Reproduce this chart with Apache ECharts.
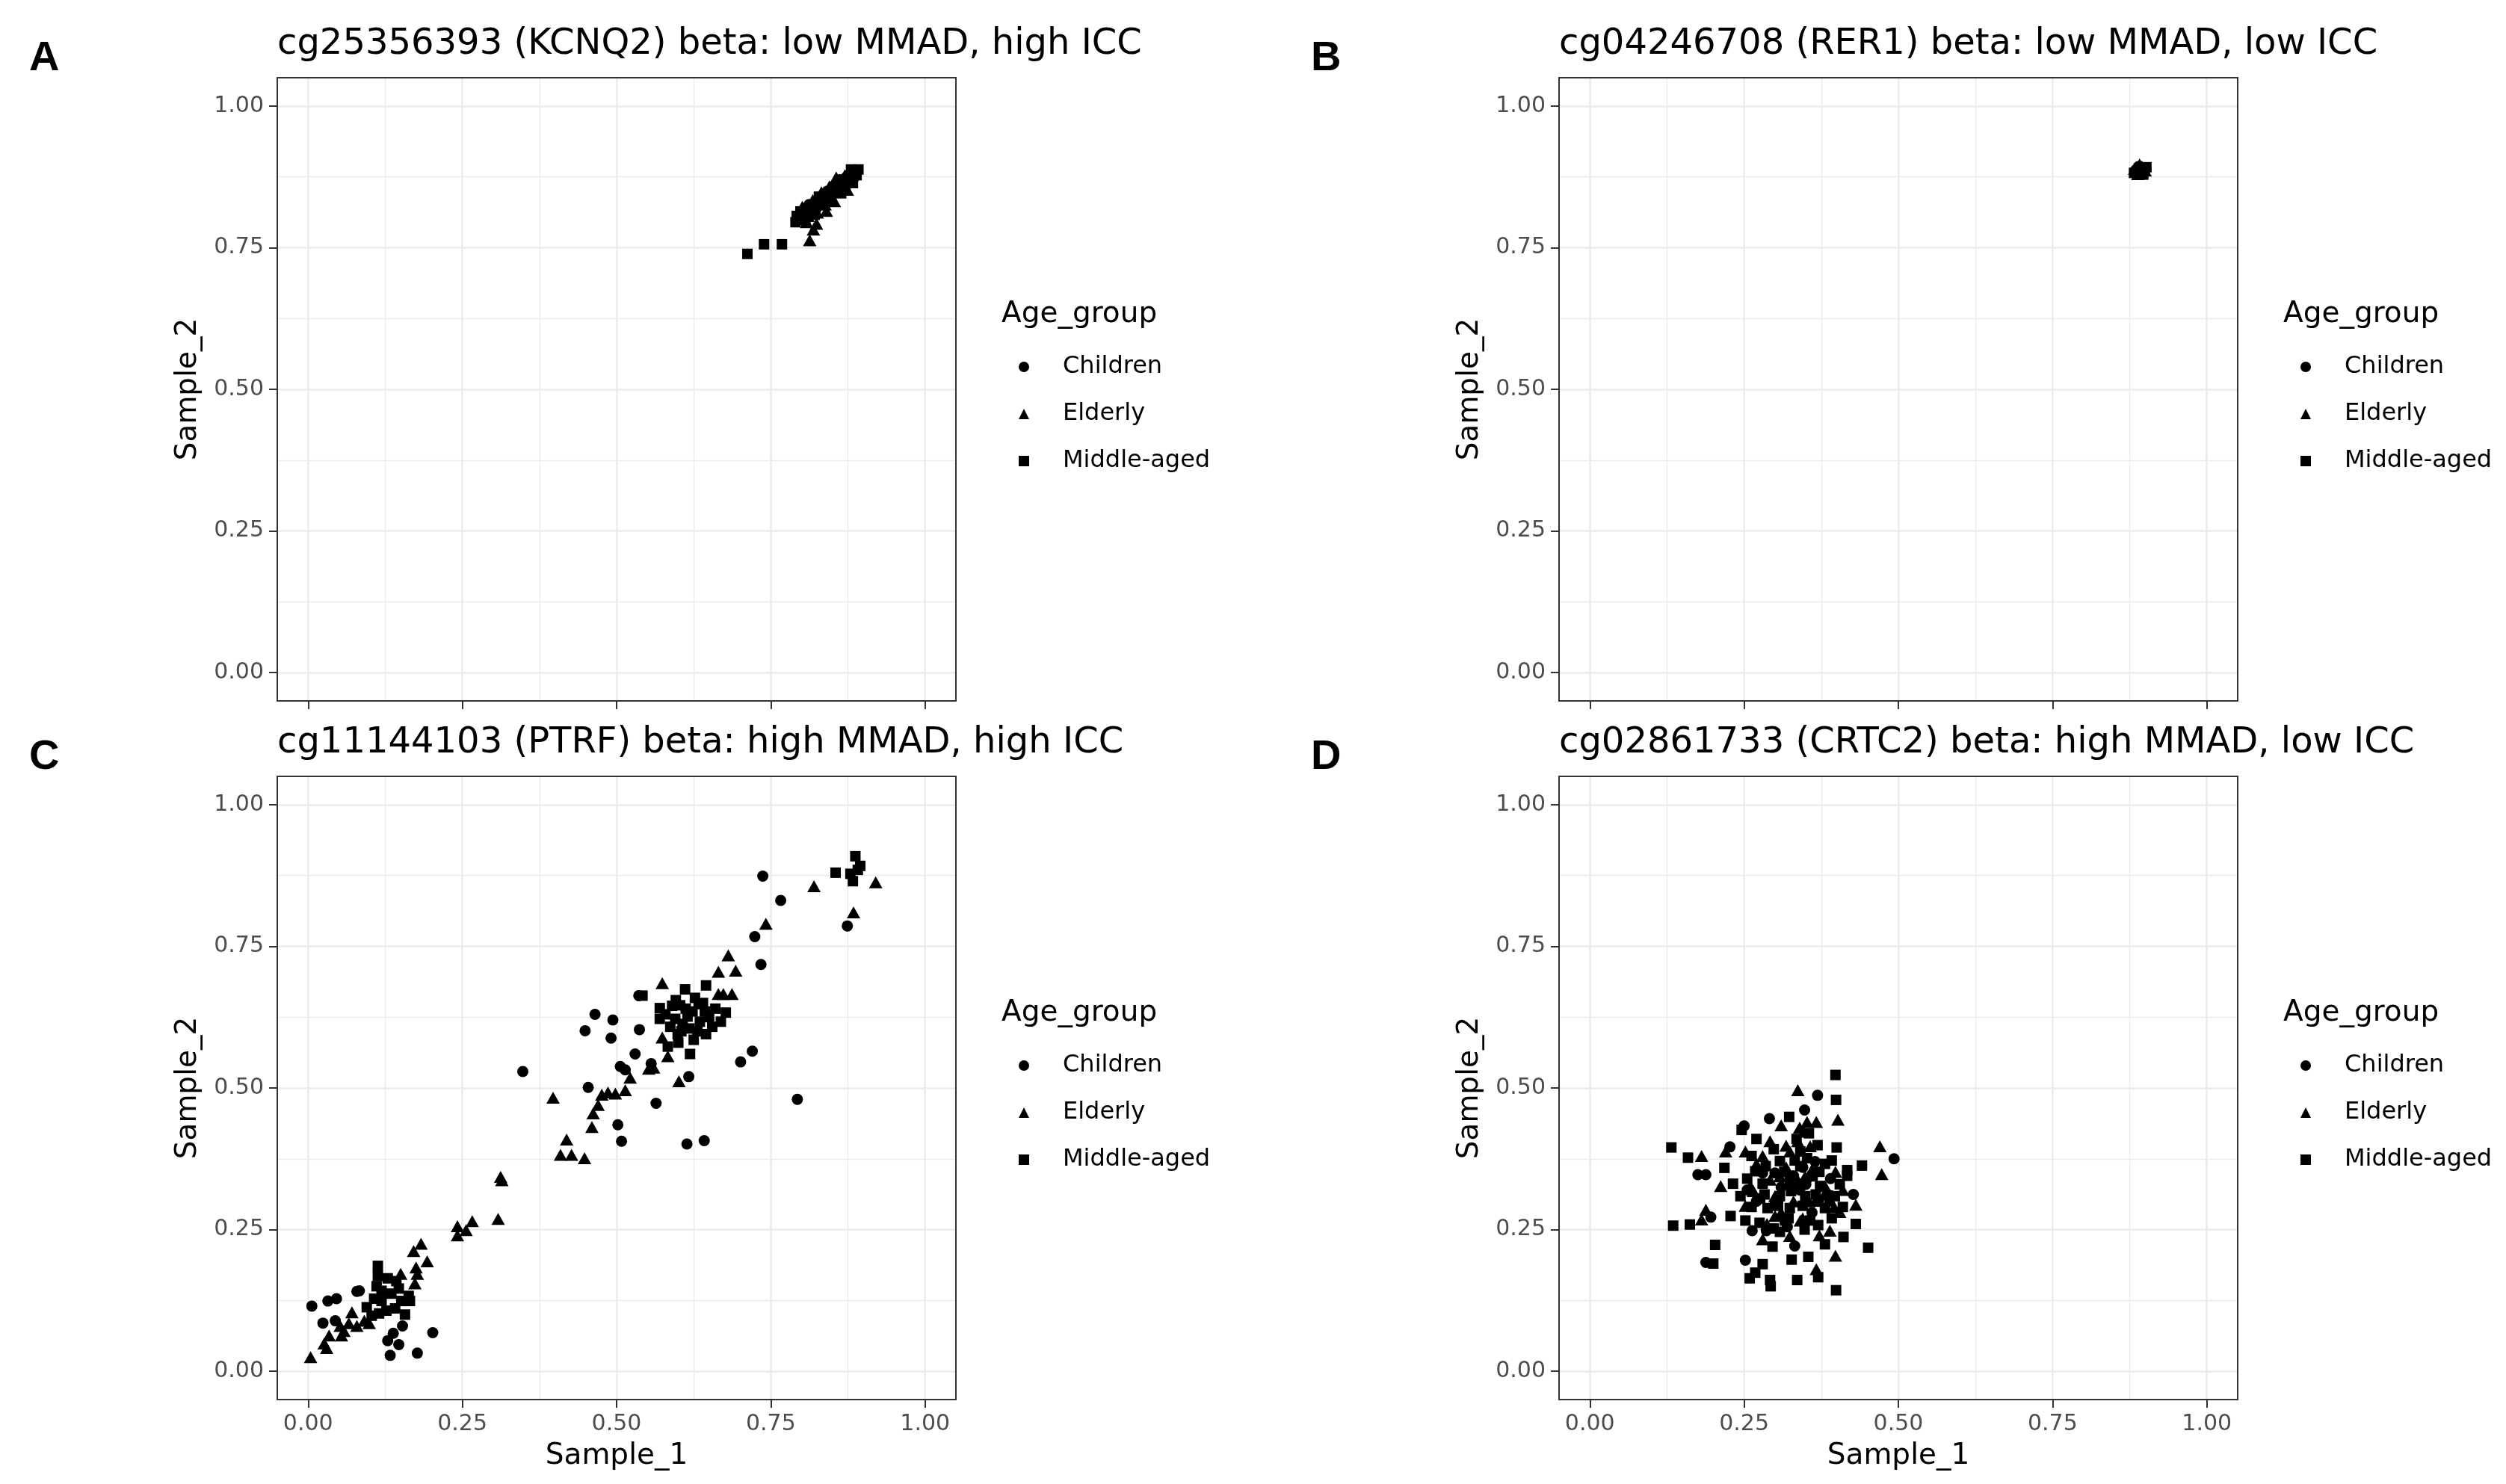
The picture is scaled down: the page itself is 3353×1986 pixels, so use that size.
<!DOCTYPE html>
<html>
<head>
<meta charset="utf-8">
<script src="https://cdn.jsdelivr.net/npm/echarts@6/dist/echarts.min.js"></script>
<style>
  html, body { margin: 0; padding: 0; background: #fff; }
  #chart { width: 3353px; height: 1986px; }
</style>
</head>
<body>
<div id="chart"></div>
<script>
// tick labels shared by every panel
const majorTicks = [0, 0.25, 0.5, 0.75, 1];
const minorTicks = [0.125, 0.375, 0.625, 0.875];
const groups = ['Children', 'Elderly', 'Middle-aged'];

const panelTitles = [
  'cg25356393 (KCNQ2) beta: low MMAD, high ICC',
  'cg04246708 (RER1) beta: low MMAD, low ICC',
  'cg11144103 (PTRF) beta: high MMAD, high ICC',
  'cg02861733 (CRTC2) beta: high MMAD, low ICC'
];
const panelLetters = ['A', 'B', 'C', 'D'];

// panel A : KCNQ2
const aChildren = [[0.805,0.812],[0.812,0.826],[0.823,0.818],[0.834,0.838],[0.842,0.850],[0.851,0.846],[0.858,0.862],[0.866,0.858],[0.872,0.874],[0.879,0.881],[0.884,0.872],[0.888,0.886],[0.829,0.829],[0.846,0.836],[0.862,0.870],[0.876,0.864]];
const aElderly = [[0.795,0.800],[0.801,0.822],[0.810,0.806],[0.818,0.834],[0.825,0.812],[0.832,0.848],[0.838,0.826],[0.845,0.858],[0.853,0.832],[0.860,0.850],[0.868,0.866],[0.874,0.852],[0.881,0.868],[0.886,0.882],[0.824,0.792],[0.819,0.782],[0.813,0.763],[0.840,0.815],[0.808,0.795],[0.856,0.874],[0.870,0.878]];
const aMiddle = [[0.712,0.739],[0.739,0.756],[0.768,0.756],[0.790,0.795],[0.792,0.806],[0.798,0.814],[0.806,0.802],[0.815,0.820],[0.821,0.808],[0.828,0.840],[0.836,0.832],[0.848,0.842],[0.855,0.855],[0.864,0.846],[0.871,0.860],[0.878,0.876],[0.883,0.864],[0.889,0.878],[0.892,0.888],[0.880,0.888]];

// panel B : RER1
const bChildren = [[0.884,0.886],[0.892,0.890],[0.898,0.882],[0.889,0.893],[0.901,0.889]];
const bElderly = [[0.891,0.897],[0.883,0.889],[0.895,0.893],[0.900,0.886],[0.888,0.880],[0.886,0.892]];
const bMiddle = [[0.882,0.882],[0.890,0.879],[0.897,0.879],[0.902,0.892],[0.887,0.886],[0.894,0.885]];

// panel C : PTRF
const cChildren = [[0.006,0.115],[0.032,0.124],[0.046,0.128],[0.079,0.141],[0.083,0.142],[0.024,0.085],[0.044,0.089],[0.153,0.080],[0.138,0.067],[0.129,0.054],[0.147,0.047],[0.133,0.028],[0.177,0.032],[0.202,0.068],
  [0.737,0.874],[0.766,0.831],[0.874,0.786],[0.724,0.767],[0.734,0.718],[0.348,0.529],[0.465,0.630],[0.494,0.620],[0.449,0.601],[0.491,0.588],[0.537,0.603],[0.530,0.560],[0.536,0.663],[0.506,0.538],[0.514,0.532],[0.556,0.543],[0.617,0.520],[0.701,0.546],[0.720,0.565],[0.793,0.480],[0.564,0.473],[0.454,0.501],[0.502,0.435],[0.508,0.406],[0.614,0.401],[0.642,0.407]];
const cElderly = [[0.314,0.337],[0.312,0.343],[0.308,0.269],[0.266,0.265],[0.242,0.256],[0.256,0.249],[0.242,0.240],[0.183,0.225],[0.171,0.212],[0.193,0.194],[0.175,0.183],[0.177,0.172],[0.173,0.155],[0.150,0.172],[0.071,0.104],[0.091,0.089],[0.004,0.025],[0.026,0.049],[0.030,0.041],[0.034,0.063],[0.058,0.071],[0.054,0.063],[0.079,0.080],[0.099,0.085],[0.066,0.085],[0.052,0.080],
  [0.574,0.685],[0.574,0.589],[0.583,0.556],[0.665,0.705],[0.681,0.734],[0.693,0.707],[0.665,0.666],[0.687,0.666],[0.673,0.666],[0.742,0.790],[0.820,0.856],[0.884,0.810],[0.920,0.863],[0.552,0.534],[0.560,0.536],[0.601,0.512],[0.522,0.518],[0.397,0.483],[0.470,0.470],[0.462,0.455],[0.460,0.431],[0.419,0.409],[0.409,0.382],[0.427,0.382],[0.448,0.376],[0.486,0.492],[0.498,0.490],[0.514,0.496],[0.476,0.488]];
const cMiddle = [[0.113,0.186],[0.113,0.168],[0.111,0.150],[0.129,0.164],[0.143,0.159],[0.163,0.133],[0.157,0.100],[0.095,0.113],[0.107,0.128],[0.119,0.124],[0.135,0.137],[0.151,0.124],[0.127,0.107],[0.103,0.098],[0.141,0.111],[0.119,0.142],[0.147,0.146],[0.165,0.124],[0.115,0.102],
  [0.570,0.641],[0.570,0.622],[0.603,0.646],[0.611,0.674],[0.627,0.659],[0.645,0.681],[0.677,0.633],[0.669,0.617],[0.619,0.560],[0.583,0.573],[0.599,0.595],[0.635,0.617],[0.615,0.626],[0.587,0.608],[0.643,0.635],[0.655,0.608],[0.595,0.622],[0.542,0.663],[0.623,0.635],[0.607,0.613],[0.579,0.630],[0.631,0.600],[0.605,0.600],[0.625,0.585],[0.640,0.650],[0.596,0.655],[0.612,0.640],[0.650,0.625],
  [0.590,0.645],[0.618,0.605],[0.633,0.648],[0.660,0.640],[0.600,0.580],[0.645,0.595],
  [0.887,0.909],[0.855,0.880],[0.879,0.878],[0.891,0.885],[0.883,0.865],[0.895,0.892]];

// panel D : CRTC2
const dChildren = [[0.369,0.487],[0.348,0.461],[0.291,0.446],[0.250,0.433],[0.227,0.396],[0.493,0.375],[0.175,0.347],[0.188,0.347],[0.196,0.272],[0.188,0.192],[0.263,0.248],[0.286,0.248],[0.332,0.221],[0.427,0.312],[0.252,0.196],[0.300,0.350],[0.340,0.320],[0.360,0.280],[0.270,0.300],[0.390,0.340],
  [0.280,0.350],[0.310,0.325],[0.330,0.345],[0.350,0.330],[0.370,0.300],[0.300,0.295],[0.320,0.255],[0.390,0.310],[0.255,0.320],[0.345,0.360],[0.365,0.370]];
const dElderly = [[0.337,0.496],[0.310,0.434],[0.367,0.440],[0.402,0.444],[0.470,0.397],[0.473,0.348],[0.181,0.380],[0.220,0.388],[0.252,0.388],[0.280,0.380],[0.292,0.406],[0.347,0.423],[0.337,0.406],[0.212,0.327],[0.188,0.285],[0.181,0.268],[0.431,0.294],[0.405,0.281],[0.398,0.204],[0.367,0.180],[0.280,0.233],[0.357,0.397],[0.324,0.388],[0.365,0.301],[0.341,0.266],[0.300,0.309],[0.260,0.327],[0.381,0.327],[0.349,0.344],[0.308,0.344],[0.252,0.292],[0.300,0.274],[0.324,0.239],[0.389,0.248],
  [0.270,0.366],[0.292,0.338],[0.318,0.360],[0.338,0.335],[0.360,0.356],[0.380,0.312],[0.398,0.352],[0.355,0.300],[0.330,0.300],[0.310,0.280],[0.287,0.260],[0.265,0.318],[0.345,0.270],[0.372,0.240],[0.396,0.290],[0.318,0.398],[0.340,0.430],[0.352,0.440],[0.410,0.320]];
const dMiddle = [[0.398,0.523],[0.399,0.479],[0.323,0.449],[0.132,0.395],[0.159,0.377],[0.135,0.257],[0.162,0.259],[0.203,0.223],[0.200,0.190],[0.327,0.197],[0.259,0.164],[0.268,0.174],[0.292,0.161],[0.293,0.150],[0.336,0.161],[0.370,0.166],[0.399,0.143],[0.280,0.189],[0.354,0.202],[0.431,0.260],[0.451,0.218],[0.411,0.237],[0.441,0.363],[0.417,0.355],[0.417,0.345],[0.369,0.399],[0.400,0.395],[0.218,0.359],[0.228,0.274],[0.246,0.426],[0.270,0.410],[0.296,0.220],[0.308,0.246],[0.381,0.224],[0.252,0.266],[0.324,0.288],[0.280,0.331],[0.308,0.309],[0.349,0.309],[0.373,0.327],[0.381,0.366],[0.341,0.362],[0.308,0.371],[0.268,0.353],[0.244,0.309],[0.357,0.266],[0.381,0.288],[0.341,0.388],[0.288,0.288],[0.324,0.336],[0.361,0.344],[0.276,0.305],[0.316,0.266],[0.397,0.309],[0.232,0.331],
  [0.262,0.380],[0.285,0.362],[0.298,0.392],[0.315,0.352],[0.332,0.372],[0.352,0.376],[0.372,0.352],[0.392,0.372],[0.405,0.330],[0.388,0.300],[0.366,0.312],[0.345,0.292],[0.326,0.318],[0.305,0.292],[0.283,0.312],[0.262,0.290],[0.255,0.340],[0.275,0.262],[0.298,0.252],[0.322,0.270],[0.348,0.250],[0.370,0.258],[0.392,0.270],[0.410,0.290],[0.335,0.410],[0.355,0.420]];

const panelData = [
  [aChildren, aElderly, aMiddle],
  [bChildren, bElderly, bMiddle],
  [cChildren, cElderly, cMiddle],
  [dChildren, dElderly, dMiddle]
];

const symbols = ['circle', 'triangle', 'rect'];
const symbolSizes = [15, [18, 16], 14];

const font = 'DejaVu Sans';
const tickColor = '#333333';
const gridColor = '#EBEBEB';

// panel boxes in pixels
const boxes = [
  { left: 371, top: 104 },
  { left: 2086, top: 104 },
  { left: 371, top: 1039 },
  { left: 2086, top: 1039 }
];
const boxW = 908, boxH = 834;

const grids = [], xAxes = [], yAxes = [], series = [], titles = [], legends = [];

boxes.forEach((b, i) => {
  const showX = i >= 2;
  grids.push({ left: b.left, top: b.top, width: boxW, height: boxH, containLabel: false });

  const major = {
    gridIndex: i, type: 'value', min: -0.05, max: 1.05,
    axisLine: { show: true, onZero: false, lineStyle: { color: tickColor, width: 2 } },
    axisTick: { show: true, length: 11, customValues: majorTicks, lineStyle: { color: tickColor, width: 2 } },
    axisLabel: { show: true, customValues: majorTicks, formatter: v => v.toFixed(2), color: '#4D4D4D', fontFamily: font, fontSize: 30, margin: 18 },
    splitLine: { show: true, customValues: majorTicks, lineStyle: { color: gridColor, width: 2.5 } }
  };
  const minor = {
    gridIndex: i, type: 'value', min: -0.05, max: 1.05,
    axisLine: { show: true, onZero: false, lineStyle: { color: tickColor, width: 2 } },
    axisTick: { show: false, customValues: minorTicks },
    axisLabel: { show: false, customValues: minorTicks },
    splitLine: { show: true, customValues: minorTicks, lineStyle: { color: gridColor, width: 1.3 } }
  };

  xAxes.push(Object.assign({}, major, {
    position: 'bottom',
    axisLabel: Object.assign({}, major.axisLabel, { show: showX }),
    name: showX ? 'Sample_1' : '', nameLocation: 'middle', nameGap: 56,
    nameTextStyle: { color: '#000', fontFamily: font, fontSize: 39 }
  }));
  xAxes.push(Object.assign({}, minor, { position: 'top' }));
  yAxes.push(Object.assign({}, major, {
    position: 'left',
    name: 'Sample_2', nameLocation: 'middle', nameGap: 100,
    nameTextStyle: { color: '#000', fontFamily: font, fontSize: 39 }
  }));
  yAxes.push(Object.assign({}, minor, { position: 'right' }));

  panelData[i].forEach((arr, g) => {
    series.push({
      name: groups[g], type: 'scatter',
      xAxisIndex: 2 * i, yAxisIndex: 2 * i,
      symbol: symbols[g], symbolSize: symbolSizes[g],
      itemStyle: { color: '#000', opacity: 1 },
      data: arr, clip: false, silent: true
    });
  });

  titles.push({
    text: panelTitles[i], left: b.left, top: b.top - 68, padding: 0,
    textStyle: { fontFamily: font, fontSize: 48, fontWeight: 'normal', color: '#000' }
  });
  titles.push({
    text: panelLetters[i], left: b.left - 332, top: b.top - 53, padding: 0,
    textStyle: { fontFamily: 'Liberation Sans', fontSize: 56, fontWeight: 'bold', color: '#000' }
  });
  titles.push({
    text: 'Age_group', left: b.left + 969, top: b.top + 297, padding: 0,
    textStyle: { fontFamily: font, fontSize: 39, fontWeight: 'normal', color: '#000' }
  });
  legends.push({
    orient: 'vertical', left: b.left + 992, top: b.top + 371,
    itemWidth: 14, itemHeight: 14, itemGap: 31, padding: 0,
    selectedMode: false,
    data: groups.map((g, k) => ({ name: g, icon: symbols[k] })),
    itemStyle: { color: '#000' },
    textStyle: { fontFamily: font, fontSize: 32, color: '#000', padding: [0, 0, 0, 40] }
  });
});

const chart = echarts.init(document.getElementById('chart'));
chart.setOption({
  backgroundColor: '#fff',
  animation: false,
  title: titles,
  legend: legends,
  grid: grids,
  xAxis: xAxes,
  yAxis: yAxes,
  series: series
});
</script>
</body>
</html>
